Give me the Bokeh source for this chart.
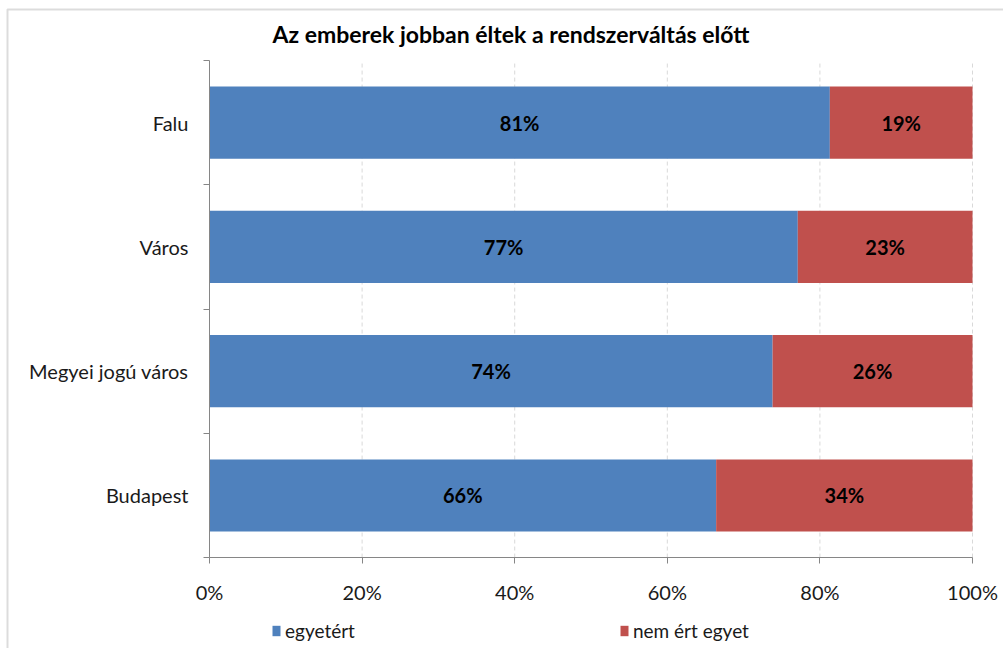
from bokeh.plotting import figure
from bokeh.models import (FixedTicker, Legend, LegendItem, ColumnDataSource,
                          LabelSet, Label, BoxAnnotation)
from bokeh.core.properties import value
from bokeh.embed import file_html
from bokeh.resources import INLINE

# ---- data ----
chart_title = "Az emberek jobban éltek a rendszerváltás előtt"
categories = ["Falu", "Város", "Megyei jogú város", "Budapest"]
agree = [81.3, 77.1, 73.8, 66.4]
disagree = [18.7, 22.9, 26.2, 33.6]
series_names = ["egyetért", "nem ért egyet"]
x_ticks = [0, 20, 40, 60, 80, 100]
x_tick_labels = ["0%", "20%", "40%", "60%", "80%", "100%"]

# ---- style ----
BLUE = "#4F81BD"
RED = "#C0504D"
AXIS = "#868686"
GRID = "#d9d9d9"
FONT = "Lato"

n = len(categories)
ypos = [n - i - 0.5 for i in range(n)]
left2 = agree
right2 = [a + d for a, d in zip(agree, disagree)]

src = ColumnDataSource(dict(
    y=ypos, agree=agree, left2=left2, right2=right2,
    mid1=[a / 2 for a in agree],
    mid2=[a + d / 2 for a, d in zip(agree, disagree)],
    lab1=[f"{round(a)}%" for a in agree],
    lab2=[f"{round(d)}%" for d in disagree],
))

# the frame fills the whole canvas; both axes are pinned at 0 inside it
p = figure(width=1003, height=648, x_range=(-27.39, 104.06),
           y_range=(-0.732, n + 0.483),
           output_backend="svg", toolbar_location=None,
           min_border_left=0, min_border_right=0,
           min_border_top=0, min_border_bottom=0)
p.outline_line_color = None
p.background_fill_color = "white"
p.title.visible = False

# chart border (top and left edges)
p.add_layout(BoxAnnotation(left=7, right=5000, top=9, bottom=5000,
                           left_units="canvas", right_units="canvas",
                           top_units="canvas", bottom_units="canvas",
                           fill_color=None, line_color="#8c8c8c", line_width=2))

p.add_layout(Label(x=272, y=33, x_units="canvas", y_units="canvas",
                   text=chart_title, text_font=FONT, text_font_size="23px",
                   text_font_style="bold", text_color="#000000",
                   text_baseline="middle", text_align="left"))

# dashed vertical gridlines over the category area only
gx = x_ticks[1:]
p.segment(x0=gx, y0=[0] * len(gx), x1=gx, y1=[n] * len(gx),
          line_color=GRID, line_dash="4 3", line_width=1)

r1 = p.hbar(y="y", left=0, right="agree", height=0.58, source=src,
            fill_color=BLUE, line_color=None)
r2 = p.hbar(y="y", left="left2", right="right2", height=0.58, source=src,
            fill_color=RED, line_color=None)

for xcol, tcol in (("mid1", "lab1"), ("mid2", "lab2")):
    p.add_layout(LabelSet(x=xcol, y="y", text=tcol, source=src,
                          text_align="center", text_baseline="middle",
                          text_font=value(FONT), text_font_style="bold",
                          text_font_size="20px", text_color="#000000"))

p.xgrid.visible = False
p.ygrid.visible = False

# x axis
xa = p.xaxis[0]
xa.fixed_location = 0
xa.bounds = (x_ticks[0], x_ticks[-1])
xa.ticker = FixedTicker(ticks=x_ticks)
xa.major_label_overrides = {t: l for t, l in zip(x_ticks, x_tick_labels)}
xa.axis_line_color = AXIS
xa.major_tick_line_color = AXIS
xa.major_tick_in = 0
xa.major_tick_out = 6
xa.minor_tick_line_color = None
xa.major_label_standoff = 16
xa.major_label_text_font = FONT
xa.major_label_text_font_size = "20px"
xa.major_label_text_color = "#1a1a1a"

# y axis
ya = p.yaxis[0]
ya.fixed_location = 0
ya.bounds = (0, n)
ya.ticker = FixedTicker(ticks=ypos, minor_ticks=list(range(n + 1)))
ya.major_label_overrides = {y: c for y, c in zip(ypos, categories)}
ya.axis_line_color = AXIS
ya.major_tick_line_color = None
ya.major_tick_in = 0
ya.major_tick_out = 0
ya.minor_tick_line_color = AXIS
ya.minor_tick_in = 0
ya.minor_tick_out = 6
ya.major_label_standoff = 15
ya.major_label_text_font = FONT
ya.major_label_text_font_size = "20px"
ya.major_label_text_color = "#1a1a1a"

legend = Legend(items=[LegendItem(label=series_names[0], renderers=[r1]),
                       LegendItem(label=series_names[1], renderers=[r2])],
                orientation="horizontal", location=(271, 6),
                glyph_width=10, glyph_height=13, label_standoff=4,
                spacing=264, padding=0, margin=0,
                border_line_color=None, background_fill_alpha=0,
                label_text_font=FONT, label_text_font_size="19px",
                label_text_color="#1a1a1a")
p.add_layout(legend)

open("out.html", "w").write(file_html(p, INLINE))
